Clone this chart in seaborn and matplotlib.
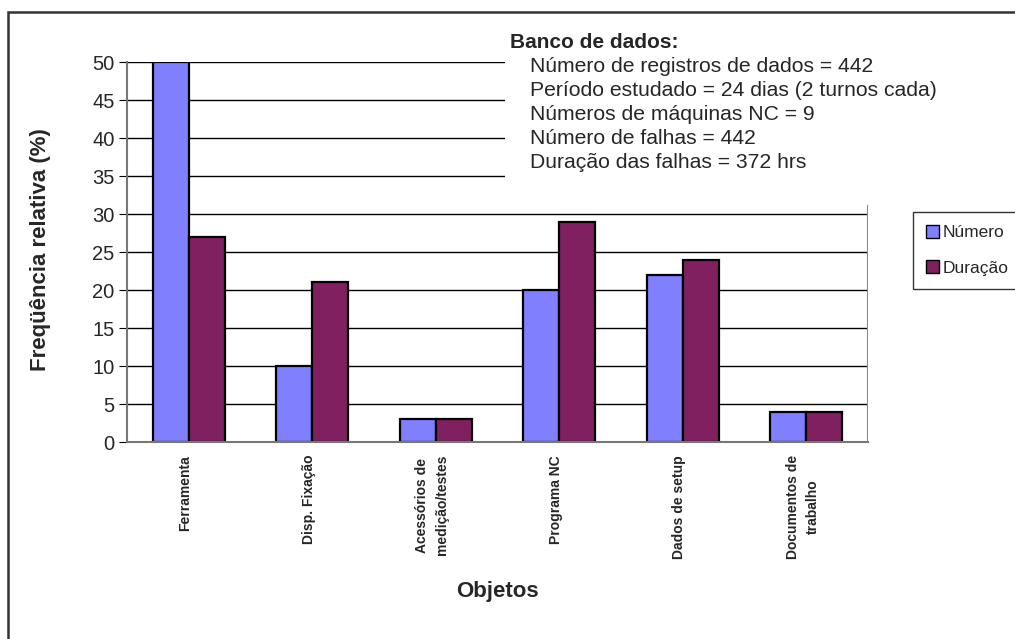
import matplotlib
matplotlib.use("Agg")
import matplotlib.pyplot as plt
import matplotlib.patches as mpatches
import seaborn as sns
import pandas as pd

# data
categorias = ["Ferramenta", "Disp. Fixação", "Acessórios de\nmedição/testes",
              "Programa NC", "Dados de setup", "Documentos de\ntrabalho"]
numero = [50, 10, 3, 20, 22, 4]
duracao = [27, 21, 3, 29, 24, 4]
series = ["Número", "Duração"]
cores = ["#8080FF", "#802060"]
yticks = [0, 5, 10, 15, 20, 25, 30, 35, 40, 45, 50]
info_titulo = "Banco de dados:"
info_linhas = ["Número de registros de dados = 442",
               "Período estudado = 24 dias (2 turnos cada)",
               "Números de máquinas NC = 9",
               "Número de falhas = 442",
               "Duração das falhas = 372 hrs"]

df = pd.DataFrame({
    "Objeto": categorias * 2,
    "Serie": [series[0]] * len(categorias) + [series[1]] * len(categorias),
    "Valor": numero + duracao,
})

sns.set_style("white")
plt.rcParams['font.family'] = ['Liberation Sans', 'DejaVu Sans']

W, H = 1015, 639
fig = plt.figure(figsize=(W / 100, H / 100), dpi=100)
ax = fig.add_axes([127 / W, 1 - 442 / H, (868 - 127) / W, (442 - 62) / H])

sns.barplot(data=df, x="Objeto", y="Valor", hue="Serie", order=categorias,
            hue_order=series, palette=cores, width=0.58, gap=0,
            edgecolor="black", linewidth=1.6, saturation=1, legend=False, ax=ax)

ax.set_ylim(0, 50)
ax.set_xlim(-0.5, len(categorias) - 0.5)
ax.set_yticks(yticks)
ax.set_yticklabels([str(v) for v in yticks], fontsize=14.5)
for v in yticks[1:]:
    ax.axhline(v, color="black", lw=1, zorder=0)

# x ticks at the category boundaries, labels placed by hand
ax.set_xticks([i - 0.5 for i in range(len(categorias) + 1)])
ax.set_xticklabels([])
ax.tick_params(axis="x", direction="out", length=5, color="#555555")
ax.tick_params(axis="y", direction="out", length=6, color="black", pad=3, left=True)
for i, c in enumerate(categorias):
    ax.text(i - 0.03, -1.7, c, rotation=90, ha="center", va="top", fontsize=10,
            fontweight="bold", linespacing=1.55)

for s in ["top", "right"]:
    ax.spines[s].set_visible(False)
ax.spines["left"].set_color("#777777")
ax.spines["left"].set_linewidth(1.5)
ax.spines["bottom"].set_color("#777777")
ax.spines["bottom"].set_linewidth(1.5)
ax.axvline(len(categorias) - 0.5, ymin=0, ymax=(442 - 205) / 380, color="#888888", lw=1.5)

ax.set_xlabel("")
ax.set_ylabel("")
fig.text(41 / W, 1 - 250 / H, "Freqüência relativa (%)", rotation=90, ha="center",
         va="center", fontsize=16, fontweight="bold")
fig.text((127 + 868) / 2 / W, 1 - 592 / H, "Objetos", ha="center", va="center",
         fontsize=16, fontweight="bold")

# white box with data info, hides upper grid lines
fig.patches.append(mpatches.Rectangle((505 / W, 1 - 205 / H), 375 / W, 180 / H,
                                      transform=fig.transFigure, facecolor="white",
                                      edgecolor="none", zorder=5))
fig.text(510 / W, 1 - 42 / H, info_titulo, ha="left", va="center", fontsize=15,
         fontweight="bold", zorder=6)
for k, linha in enumerate(info_linhas):
    fig.text(530 / W, 1 - (67 + 24 * k) / H, linha, ha="left", va="center",
             fontsize=15.2, zorder=6)

handles = [mpatches.Patch(facecolor=c, edgecolor="black", label=s) for s, c in zip(series, cores)]
leg = fig.legend(handles=handles, loc="upper left", bbox_to_anchor=(913 / W, 1 - 212 / H),
                 fontsize=12.5, frameon=True, fancybox=False, handlelength=0.75,
                 handleheight=0.75, handletextpad=0.2, labelspacing=1.15,
                 borderpad=0.75, borderaxespad=0)
leg.get_frame().set_edgecolor("black")
leg.get_frame().set_linewidth(1)

# outer frame of the chart
fig.patches.append(mpatches.Rectangle((8 / W, -0.1), 1.2, 1.1 - 12 / H,
                                      transform=fig.transFigure, facecolor="none",
                                      edgecolor="#333333", lw=1.8, zorder=10))

fig.savefig("out.png", dpi=100)
